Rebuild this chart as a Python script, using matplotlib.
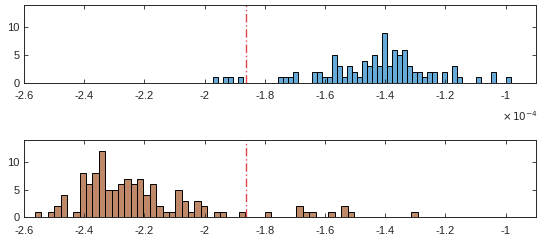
import numpy as np
import matplotlib
matplotlib.use("Agg")
import matplotlib.pyplot as plt

plt.rcParams['font.family'] = ['Liberation Sans', 'DejaVu Sans']

# values are in units of 1e-4
threshold = -1.862

top_start = -1.9722
top_width = 0.016519
top_counts = [1, 0, 1, 1, 0, 1, 0, 0, 0, 0,
              0, 0, 0, 1, 1, 1, 2, 0, 0, 0,
              2, 2, 1, 1, 5, 3, 1, 3, 2, 1,
              4, 3, 5, 3, 9, 3, 6, 5, 6, 3,
              2, 2, 1, 2, 2, 0, 2, 0, 3, 1,
              0, 0, 0, 1, 0, 0, 2, 0, 0, 1]

bot_start = -2.5633
bot_width = 0.021185
bot_counts = [1, 0, 1, 2, 4, 0, 1, 8, 6, 8,
              12, 5, 5, 6, 7, 6, 7, 4, 6, 2,
              1, 1, 5, 3, 1, 3, 2, 0, 1, 1,
              0, 0, 1, 0, 0, 0, 1, 0, 0, 0,
              0, 2, 1, 1, 0, 0, 1, 0, 2, 1,
              0, 0, 0, 0, 0, 0, 0, 0, 0, 1]

xticks = [-2.6, -2.4, -2.2, -2.0, -1.8, -1.6, -1.4, -1.2, -1.0]
xlabels = ['-2.6', '-2.4', '-2.2', '-2', '-1.8', '-1.6', '-1.4', '-1.2', '-1']
yticks = [0, 5, 10]

dark = '#262626'

fig = plt.figure(figsize=(5.41, 2.42), dpi=100)
ax1 = fig.add_axes([0.0444, 0.657, 0.9458, 0.3223])
ax2 = fig.add_axes([0.0444, 0.102, 0.9458, 0.318])


def draw(ax, start, width, counts, color):
    lefts = start + width * np.arange(len(counts))
    ax.bar(lefts, counts, width=width, align='edge', color=color,
           edgecolor='black', linewidth=0.7)
    ax.axvline(threshold, color='#E0474C', linestyle=(0, (6, 2, 1, 2)), linewidth=1)
    ax.set_xlim(-2.6, -0.9)
    ax.set_ylim(0, 14)
    ax.set_xticks(xticks)
    ax.set_xticklabels(xlabels)
    ax.set_yticks(yticks)
    ax.tick_params(direction='in', length=3, width=0.6, top=True, right=True,
                   labelsize=8, colors=dark)
    ax.tick_params(axis='x', pad=6)
    ax.tick_params(axis='y', pad=3)
    for s in ax.spines.values():
        s.set_color(dark)
        s.set_linewidth(0.7)


draw(ax1, top_start, top_width, top_counts, '#66AAD7')
draw(ax2, bot_start, bot_width, bot_counts, '#BF8868')

fig.text(0.928, 0.493, r'$\times\,10^{-4}$', fontsize=7.5, color=dark,
         ha='left', va='bottom')

fig.savefig('out.png', dpi=100)
